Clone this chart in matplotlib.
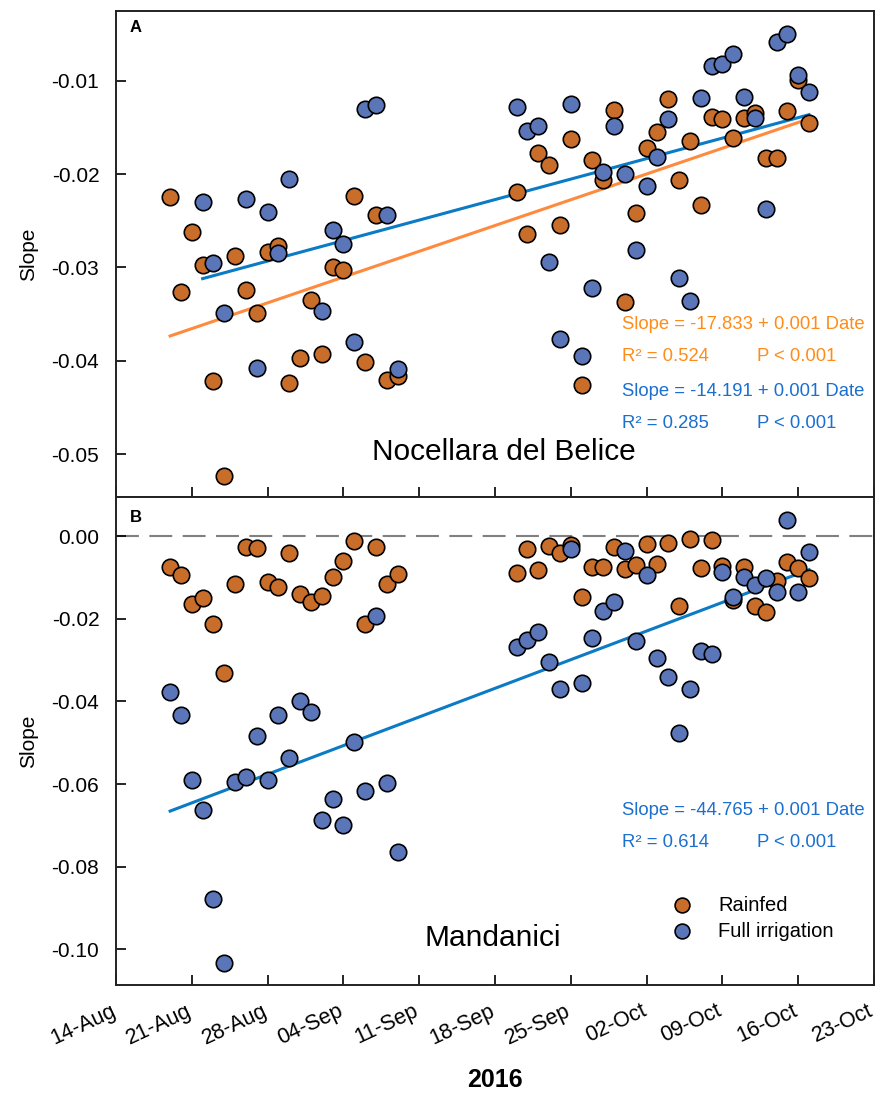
import matplotlib
matplotlib.use("Agg")
import matplotlib.pyplot as plt
import matplotlib.dates as mdates
import matplotlib.transforms as mtransforms
import numpy as np
import pandas as pd

plt.rcParams['font.family'] = ['Liberation Sans', 'DejaVu Sans']

# dates (2016, month-day)
days_early = ['08-19', '08-20', '08-21', '08-22', '08-23', '08-24', '08-25', '08-26',
              '08-27', '08-28', '08-29', '08-30', '08-31', '09-01', '09-02', '09-03',
              '09-04', '09-05', '09-06', '09-07', '09-08', '09-09']
days_late = ['09-20', '09-21', '09-22', '09-23', '09-24', '09-25', '09-26', '09-27',
             '09-28', '09-29', '09-30', '10-01', '10-02', '10-03', '10-04', '10-05',
             '10-06', '10-07', '10-08', '10-09', '10-10', '10-11', '10-12', '10-13',
             '10-14', '10-15', '10-16', '10-17']
days_all = days_early + days_late

# A: Nocellara del Belice
a_rainfed = [-0.0225, -0.0326, -0.0262, -0.0297, -0.0422, -0.0524, -0.0288, -0.0324,
             -0.0349, -0.0283, -0.0277, -0.0424, -0.0397, -0.0335, -0.0393, -0.0300,
             -0.0303, -0.0224, -0.0401, -0.0244, -0.0421, -0.0416,
             -0.0219, -0.0264, -0.0177, -0.0190, -0.0255, -0.0162, -0.0426, -0.0185,
             -0.0206, -0.0131, -0.0337, -0.0242, -0.0172, -0.0155, -0.0120, -0.0206,
             -0.0165, -0.0233, -0.0139, -0.0141, -0.0161, -0.0140, -0.0135, -0.0183,
             -0.0183, -0.0132, -0.0099, -0.0145]

a_irr_days = ['08-22', '08-23', '08-24', '08-26', '08-27', '08-28', '08-29', '08-30',
              '09-02', '09-03', '09-04', '09-05', '09-06', '09-07', '09-08', '09-09'] + days_late
a_irrigated = [-0.0230, -0.0295, -0.0349, -0.0227, -0.0408, -0.0241, -0.0285, -0.0205,
               -0.0347, -0.0260, -0.0275, -0.0380, -0.0130, -0.0126, -0.0244, -0.0409,
               -0.0128, -0.0154, -0.0149, -0.0294, -0.0377, -0.0125, -0.0395, -0.0322,
               -0.0198, -0.0149, -0.0200, -0.0281, -0.0213, -0.0182, -0.0141, -0.0311,
               -0.0336, -0.0118, -0.0084, -0.0082, -0.0071, -0.0117, -0.0140, -0.0237,
               -0.0059, -0.0050, -0.0094, -0.0112]

# B: Mandanici
b_rainfed = [-0.0075, -0.0095, -0.0164, -0.0150, -0.0214, -0.0332, -0.0115, -0.0026,
             -0.0030, -0.0112, -0.0123, -0.0040, -0.0141, -0.0159, -0.0145, -0.0098,
             -0.0060, -0.0012, -0.0214, -0.0026, -0.0115, -0.0091,
             -0.0089, -0.0032, -0.0083, -0.0024, -0.0042, -0.0022, -0.0148, -0.0074,
             -0.0074, -0.0027, -0.0080, -0.0071, -0.0019, -0.0068, -0.0016, -0.0169,
             -0.0006, -0.0077, -0.0010, -0.0073, -0.0155, -0.0076, -0.0169, -0.0183,
             -0.0109, -0.0063, -0.0078, -0.0102]
b_irrigated = [-0.0377, -0.0433, -0.0589, -0.0662, -0.0878, -0.1032, -0.0594, -0.0582,
               -0.0483, -0.0589, -0.0433, -0.0538, -0.0400, -0.0426, -0.0686, -0.0637,
               -0.0700, -0.0499, -0.0617, -0.0194, -0.0598, -0.0765,
               -0.0269, -0.0252, -0.0231, -0.0304, -0.0371, -0.0031, -0.0356, -0.0247,
               -0.0182, -0.0159, -0.0036, -0.0254, -0.0094, -0.0294, -0.0342, -0.0477,
               -0.0371, -0.0278, -0.0285, -0.0087, -0.0147, -0.0099, -0.0118, -0.0102,
               -0.0135, 0.0038, -0.0136, -0.0039]

tick_days = ['08-14', '08-21', '08-28', '09-04', '09-11', '09-18', '09-25',
             '10-02', '10-09', '10-16', '10-23']


def to_dates(days):
    return pd.to_datetime(['2016-' + d for d in days])


c_rain = '#C96D2A'
c_irr = '#5B76B8'
c_rain_line = '#FF8A3D'
c_irr_line = '#0A7BC4'
c_rain_txt = '#FF8C1A'
c_irr_txt = '#1A6FD0'


def fit_line(ax, days, vals, color):
    x = mdates.date2num(to_dates(days))
    k, b = np.polyfit(x, vals, 1)
    xs = np.array([x.min(), x.max()])
    ax.plot(mdates.num2date(xs), k * xs + b, color=color, lw=2.2, zorder=2)


fig = plt.figure(figsize=(8.75, 10.97), dpi=100)
ax1 = fig.add_axes([116 / 875, 1 - 497 / 1097, 758 / 875, 486 / 1097])
ax2 = fig.add_axes([116 / 875, 1 - 985 / 1097, 758 / 875, 488 / 1097], sharex=ax1)

mk = dict(s=140, edgecolors='black', linewidths=1.2, zorder=3)
fs_note = 13.3

# panel A
ax1.scatter(to_dates(days_all), a_rainfed, color=c_rain, **mk)
ax1.scatter(to_dates(a_irr_days), a_irrigated, color=c_irr, **mk)
fit_line(ax1, days_all, a_rainfed, c_rain_line)
fit_line(ax1, a_irr_days, a_irrigated, c_irr_line)
ax1.set_ylim(-0.0546, -0.00253)
ax1.set_yticks([-0.01, -0.02, -0.03, -0.04, -0.05])
ax1.set_yticklabels(['-0.01', '-0.02', '-0.03', '-0.04', '-0.05'])

ax1.text(0.018, 0.967, 'A', transform=ax1.transAxes, fontsize=12, fontweight='bold', va='center')
ax1.text(0.6675, 0.354, 'Slope = -17.833 + 0.001 Date', transform=ax1.transAxes,
         color=c_rain_txt, fontsize=fs_note, va='center')
ax1.text(0.6675, 0.289, 'R² = 0.524', transform=ax1.transAxes, color=c_rain_txt, fontsize=fs_note, va='center')
ax1.text(0.846, 0.289, 'P < 0.001', transform=ax1.transAxes, color=c_rain_txt, fontsize=fs_note, va='center')
ax1.text(0.6675, 0.217, 'Slope = -14.191 + 0.001 Date', transform=ax1.transAxes,
         color=c_irr_txt, fontsize=fs_note, va='center')
ax1.text(0.6675, 0.152, 'R² = 0.285', transform=ax1.transAxes, color=c_irr_txt, fontsize=fs_note, va='center')
ax1.text(0.846, 0.152, 'P < 0.001', transform=ax1.transAxes, color=c_irr_txt, fontsize=fs_note, va='center')
ax1.text(0.512, 0.0926, 'Nocellara del Belice', transform=ax1.transAxes, fontsize=21.5,
         ha='center', va='center')

# panel B
ax2.axhline(0, color='#808080', lw=1.5, dashes=(11, 5), zorder=1)
h1 = ax2.scatter(to_dates(days_all), b_rainfed, color=c_rain, label='Rainfed', **mk)
h2 = ax2.scatter(to_dates(days_all), b_irrigated, color=c_irr, label='Full irrigation', **mk)
fit_line(ax2, days_all, b_irrigated, c_irr_line)
ax2.set_ylim(-0.1086, 0.00944)
ax2.set_yticks([0.0, -0.02, -0.04, -0.06, -0.08, -0.10])
ax2.set_yticklabels(['0.00', '-0.02', '-0.04', '-0.06', '-0.08', '-0.10'])

ax2.text(0.018, 0.958, 'B', transform=ax2.transAxes, fontsize=12, fontweight='bold', va='center')
ax2.text(0.6675, 0.357, 'Slope = -44.765 + 0.001 Date', transform=ax2.transAxes,
         color=c_irr_txt, fontsize=fs_note, va='center')
ax2.text(0.6675, 0.2916, 'R² = 0.614', transform=ax2.transAxes, color=c_irr_txt, fontsize=fs_note, va='center')
ax2.text(0.846, 0.2916, 'P < 0.001', transform=ax2.transAxes, color=c_irr_txt, fontsize=fs_note, va='center')
ax2.text(0.497, 0.0963, 'Mandanici', transform=ax2.transAxes, fontsize=21.5, ha='center', va='center')
ax2.legend(handles=[h1, h2], loc='center left', bbox_to_anchor=(0.72, 0.137), frameon=False,
           fontsize=14.5, handlelength=2, handletextpad=0.8, labelspacing=0.35,
           borderpad=0, borderaxespad=0, scatterpoints=1, markerscale=0.9)

ticks = to_dates(tick_days)
for ax in (ax1, ax2):
    ax.set_xlim(ticks[0], ticks[-1])
    ax.set_xticks(ticks)
    ax.set_ylabel('Slope', fontsize=15, labelpad=10)
    ax.tick_params(direction='in', length=7, width=1.2, labelsize=15, top=False, right=False)
    ax.tick_params(axis='y', pad=12)
    for s in ax.spines.values():
        s.set_linewidth(1.4)
        s.set_color('#222222')
ax1.tick_params(labelbottom=False)
ax2.tick_params(axis='x', pad=11)
ax2.set_xticklabels([t.strftime('%d-%b') for t in ticks], rotation=25, ha='right',
                    rotation_mode='anchor', fontsize=15.5)
shift = mtransforms.ScaledTranslation(-6 / 100, 0, fig.dpi_scale_trans)
for lab in ax2.get_xticklabels():
    lab.set_transform(lab.get_transform() + shift)
ax2.set_xlabel('2016', fontsize=18, fontweight='bold', labelpad=14)

fig.savefig('out.png', dpi=100)
